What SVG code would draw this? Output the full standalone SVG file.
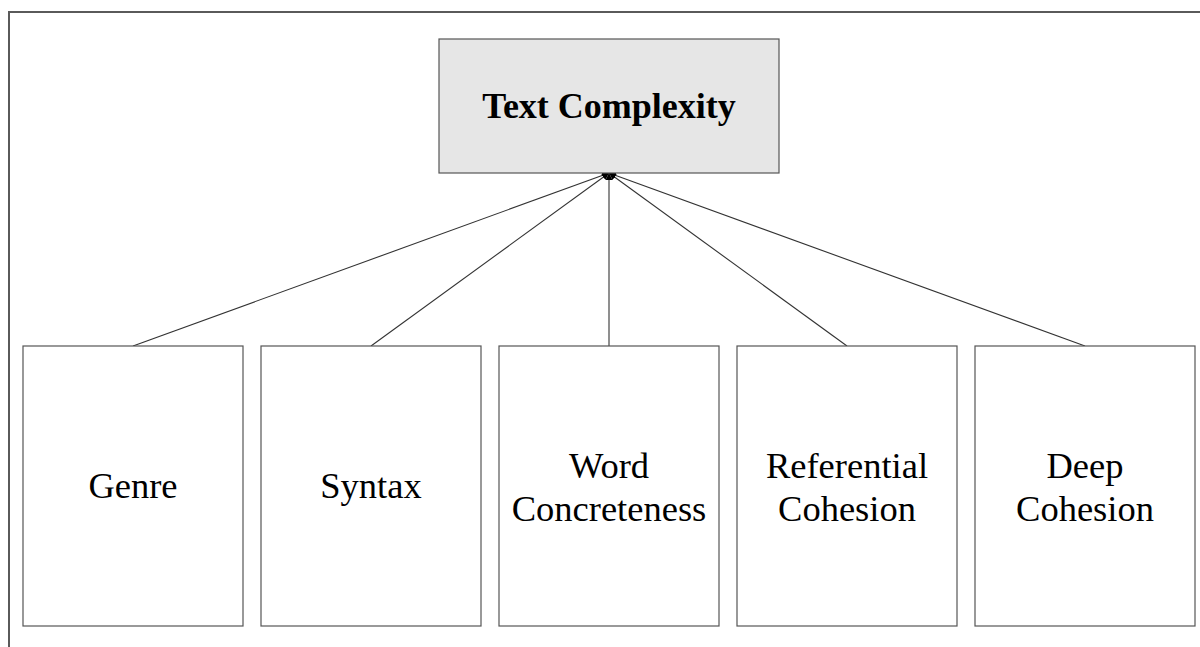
<svg xmlns="http://www.w3.org/2000/svg" width="1200" height="647" viewBox="0 0 1200 647">
  <style>
    .frame { fill: none; stroke: #5a5a5a; stroke-width: 2; }
    .root { fill: #e6e6e6; stroke: #555; stroke-width: 1.2; }
    .leaf { fill: #fff; stroke: #555; stroke-width: 1.2; }
    .link { stroke: #333; stroke-width: 1.1; fill: none; marker-end: url(#tip); }
    .title { font-family: "Liberation Serif", "Times New Roman", serif; font-size: 36px; font-weight: bold; fill: #000; text-anchor: middle; }
    .label { font-family: "Liberation Serif", "Times New Roman", serif; font-size: 36.5px; fill: #000; text-anchor: middle; }
  </style>
  <defs>
    <marker id="tip" viewBox="0 0 10 10" refX="10" refY="5" markerWidth="7" markerHeight="7" markerUnits="userSpaceOnUse" orient="auto">
      <path d="M0,0 L10,5 L0,10 z" fill="#000"/>
    </marker>
  </defs>
  <rect width="1200" height="647" fill="#fff"/>
  <path class="frame" d="M9,647 V12 H1200"/>

  <g id="connectors">
    <line class="link" x1="133" y1="346" x2="609" y2="173"/>
    <line class="link" x1="371" y1="346" x2="609" y2="173"/>
    <line class="link" x1="609" y1="346" x2="609" y2="173"/>
    <line class="link" x1="847" y1="346" x2="609" y2="173"/>
    <line class="link" x1="1085" y1="346" x2="609" y2="173"/>
  </g>

  <g id="text-complexity">
    <rect class="root" x="439" y="39" width="340" height="134"/>
    <text class="title" x="609" y="118">Text Complexity</text>
  </g>
  <g id="genre">
    <rect class="leaf" x="23" y="346" width="220" height="280"/>
    <text class="label" x="133" y="498">Genre</text>
  </g>
  <g id="syntax">
    <rect class="leaf" x="261" y="346" width="220" height="280"/>
    <text class="label" x="371" y="498">Syntax</text>
  </g>
  <g id="word-concreteness">
    <rect class="leaf" x="499" y="346" width="220" height="280"/>
    <text class="label" x="609" y="478">Word</text>
    <text class="label" x="609" y="521">Concreteness</text>
  </g>
  <g id="referential-cohesion">
    <rect class="leaf" x="737" y="346" width="220" height="280"/>
    <text class="label" x="847" y="478">Referential</text>
    <text class="label" x="847" y="521">Cohesion</text>
  </g>
  <g id="deep-cohesion">
    <rect class="leaf" x="975" y="346" width="220" height="280"/>
    <text class="label" x="1085" y="478">Deep</text>
    <text class="label" x="1085" y="521">Cohesion</text>
  </g>
</svg>
